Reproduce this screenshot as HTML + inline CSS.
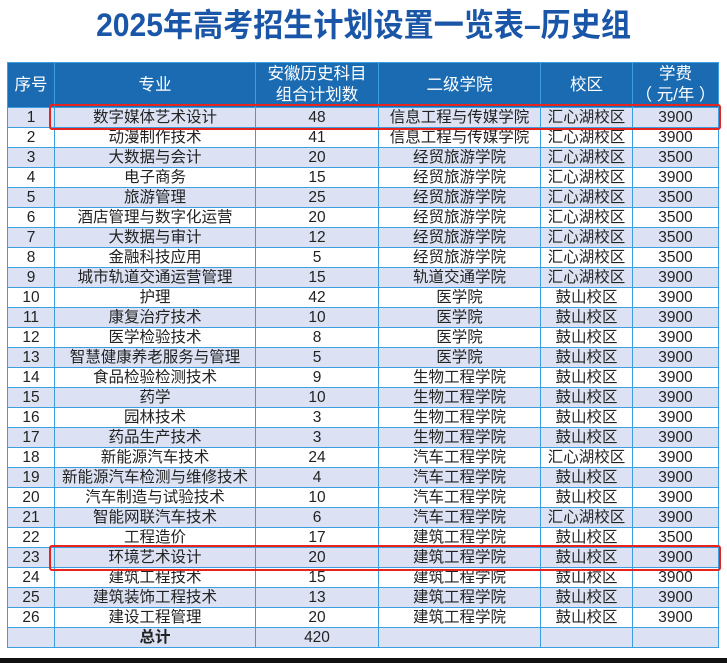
<!DOCTYPE html>
<html><head><meta charset="utf-8"><style>
body{margin:0;width:727px;height:663px;background:#fff;position:relative;overflow:hidden;font-family:"Liberation Sans","Noto Sans CJK SC",sans-serif;}
#title{position:absolute;left:0;top:4px;width:727px;text-align:center;font-size:32px;font-weight:bold;color:#1a56a8;line-height:42px;white-space:nowrap;}
#title span{display:inline-block;transform:scaleX(0.94);}
table{position:absolute;left:7px;top:62px;border-collapse:collapse;table-layout:fixed;}
td,th{border:1.5px solid #3b9ee0;padding:0;text-align:center;font-size:15.5px;color:#222;height:19px;line-height:19px;white-space:nowrap;overflow:hidden;font-weight:normal;}
th{background:#1b6bb3;color:#fff;font-size:16.5px;line-height:21px;height:44px;}
tr.o td{background:#dce2f3;}
tr.e td{background:#fff;}
.box{position:absolute;border:2.5px solid #e8241f;border-radius:3px;}
#bar{position:absolute;left:0;top:658px;width:727px;height:5px;background:#111;}
</style></head><body>
<div id="title"><span>2025年高考招生计划设置一览表–历史组</span></div>
<table>
<colgroup><col style="width:47px"><col style="width:201px"><col style="width:123px"><col style="width:162px"><col style="width:92px"><col style="width:86px"></colgroup>
<tr><th>序号</th><th>专业</th><th>安徽历史科目<br>组合计划数</th><th>二级学院</th><th>校区</th><th>学费<br>（ 元/年 ）</th></tr>
<tbody id="tb"></tbody>
</table>
<div class="box" style="left:49px;top:104px;width:668px;height:22px"></div>
<div class="box" style="left:49px;top:545px;width:668px;height:22px"></div>
<div id="bar"></div>
<script>
const majors=["数字媒体艺术设计","动漫制作技术","大数据与会计","电子商务","旅游管理","酒店管理与数字化运营","大数据与审计","金融科技应用","城市轨道交通运营管理","护理","康复治疗技术","医学检验技术","智慧健康养老服务与管理","食品检验检测技术","药学","园林技术","药品生产技术","新能源汽车技术","新能源汽车检测与维修技术","汽车制造与试验技术","智能网联汽车技术","工程造价","环境艺术设计","建筑工程技术","建筑装饰工程技术","建设工程管理"];
const plans=[48,41,20,15,25,20,12,5,15,42,10,8,5,9,10,3,3,24,4,10,6,17,20,15,13,20];
const colleges=["信息工程与传媒学院","信息工程与传媒学院","经贸旅游学院","经贸旅游学院","经贸旅游学院","经贸旅游学院","经贸旅游学院","经贸旅游学院","轨道交通学院","医学院","医学院","医学院","医学院","生物工程学院","生物工程学院","生物工程学院","生物工程学院","汽车工程学院","汽车工程学院","汽车工程学院","汽车工程学院","建筑工程学院","建筑工程学院","建筑工程学院","建筑工程学院","建筑工程学院"];
const campuses=["汇心湖校区","汇心湖校区","汇心湖校区","汇心湖校区","汇心湖校区","汇心湖校区","汇心湖校区","汇心湖校区","汇心湖校区","鼓山校区","鼓山校区","鼓山校区","鼓山校区","鼓山校区","鼓山校区","鼓山校区","鼓山校区","汇心湖校区","鼓山校区","鼓山校区","汇心湖校区","鼓山校区","鼓山校区","鼓山校区","鼓山校区","鼓山校区"];
const fees=[3900,3900,3500,3900,3500,3500,3500,3500,3900,3900,3900,3900,3900,3900,3900,3900,3900,3900,3900,3900,3900,3500,3900,3900,3900,3900];
const total="420";
const tb=document.getElementById('tb');
majors.forEach((m,i)=>{
  const tr=document.createElement('tr');
  tr.className=i%2===0?'o':'e';
  
  
  [i+1,m,plans[i],colleges[i],campuses[i],fees[i]].forEach(v=>{const td=document.createElement('td');td.textContent=v;tr.appendChild(td);});
  tb.appendChild(tr);
});
const tr=document.createElement('tr');
tr.className='o';


['','总计',total,'','',''].forEach((v,j)=>{const td=document.createElement('td');td.textContent=v;if(j===1)td.style.fontWeight='bold';tr.appendChild(td);});
tb.appendChild(tr);
</script>
</body></html>
